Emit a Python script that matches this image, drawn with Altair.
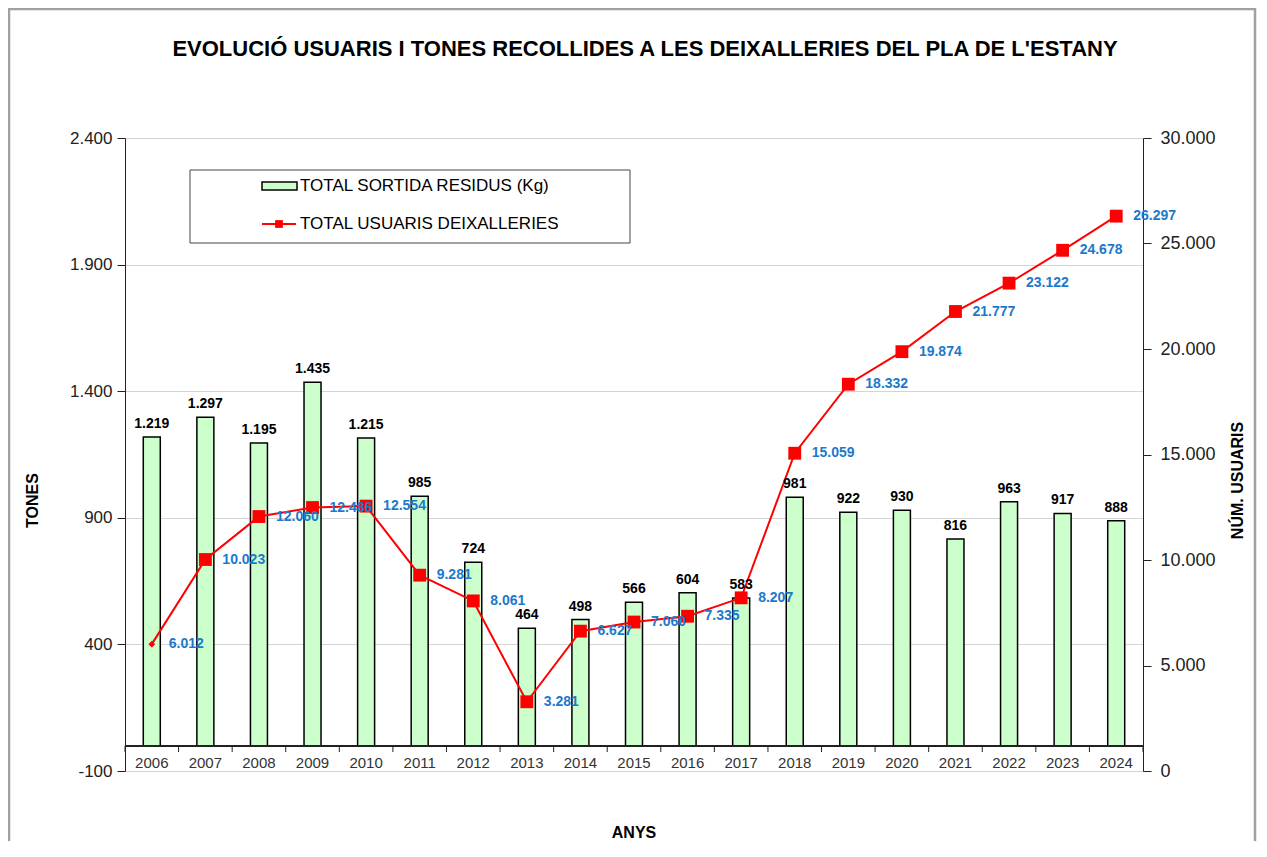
import altair as alt
import pandas as pd

years = [str(y) for y in range(2006, 2025)]
tones = [1219, 1297, 1195, 1435, 1215, 985, 724, 464, 498, 566, 604, 583, 981, 922, 930, 816, 963, 917, 888]
usuaris = [6012, 10023, 12060, 12486, 12554, 9281, 8061, 3281, 6627, 7060, 7335, 8207,
           15059, 18332, 19874, 21777, 23122, 24678, 26297]
left_ticks = [-100, 400, 900, 1400, 1900, 2400]
right_ticks = [0, 5000, 10000, 15000, 20000, 25000, 30000]
legend_labels = ["TOTAL SORTIDA RESIDUS (Kg)", "TOTAL USUARIS DEIXALLERIES"]
title_text = "EVOLUCIÓ USUARIS I TONES RECOLLIDES A LES DEIXALLERIES DEL PLA DE L'ESTANY"
x_title = "ANYS"


def fmt(v):
    return f"{v:,}".replace(",", ".")


df = pd.DataFrame({
    "year": years,
    "tones": tones,
    "usuaris": usuaris,
    "tones_lbl": [fmt(v) for v in tones],
    "usu_lbl": [fmt(v) for v in usuaris],
})

W, H = 1018, 633
FONT = "Liberation Sans"
DOT_EXPR = "replace(replace(datum.label, ',', '.'), '\u2212', '-')"
BLUE = "#1c79cc"
AX = "#222222"

xs = alt.Scale(paddingInner=0, paddingOuter=0)
x_plain = alt.X("year:N", sort=years, axis=None, scale=xs)

yl_scale = alt.Scale(domain=[-100, 2400], nice=False, zero=False)
yr_scale = alt.Scale(domain=[0, 30000], nice=False, zero=False)

bars = alt.Chart(df).mark_bar(size=17, fill="#ccffcc", stroke="black", strokeWidth=1.5).encode(
    x=x_plain,
    y=alt.Y("tones:Q", scale=yl_scale, title="TONES",
            axis=alt.Axis(values=left_ticks, labelExpr=DOT_EXPR, orient="left",
                          grid=True, gridColor="#d4d4d4", gridWidth=1,
                          domainColor=AX, tickColor=AX, tickSize=8,
                          labelFontSize=17, labelColor="#222", labelPadding=5, labelFont=FONT,
                          titleFont=FONT, titleFontSize=16, titleFontWeight="bold",
                          titleColor="black", titleX=-93, titleY=362, titleAngle=270,
                          titleBaseline="middle", titleAlign="center")),
    y2=alt.datum(0),
)
bar_labels = alt.Chart(df).mark_text(baseline="alphabetic", dy=-9, fontSize=14, fontWeight="bold",
                                     font=FONT, color="black").encode(
    x=x_plain,
    y=alt.Y("tones:Q", scale=yl_scale, axis=None),
    text="tones_lbl:N",
)

line = alt.Chart(df).mark_line(color="#ff0000", strokeWidth=2).encode(
    x=x_plain,
    y=alt.Y("usuaris:Q", scale=yr_scale, title="NÚM. USUARIS",
            axis=alt.Axis(values=right_ticks, labelExpr=DOT_EXPR, orient="right", grid=False,
                          domainColor=AX, tickColor=AX, tickSize=8,
                          labelFontSize=18, labelColor="#222", labelPadding=9, labelFont=FONT,
                          titleFont=FONT, titleFontSize=16, titleFontWeight="bold",
                          titleColor="black", titleX=94, titleY=342, titleAngle=270,
                          titleBaseline="middle", titleAlign="center")),
)
points = alt.Chart(df).mark_point(filled=True, color="#ff0000", opacity=1).encode(
    x=x_plain,
    y=alt.Y("usuaris:Q", scale=yr_scale, axis=None),
    shape=alt.condition(alt.datum.year == "2006", alt.value("diamond"), alt.value("square")),
    size=alt.condition(alt.datum.year == "2006", alt.value(45), alt.value(165)),
)
line_labels = alt.Chart(df).mark_text(align="left", baseline="middle", dx=17, fontSize=14,
                                      fontWeight="bold", font=FONT, color=BLUE).encode(
    x=x_plain,
    y=alt.Y("usuaris:Q", scale=yr_scale, axis=None),
    text="usu_lbl:N",
)

# category axis drawn at the zero line of the left scale
x_domain = alt.Chart(df).mark_rule(color=AX, strokeWidth=1.2).encode(
    y=alt.Y(datum=0, scale=yl_scale, axis=None))
x_ticks = alt.Chart(df).mark_rule(color=AX, strokeWidth=1).encode(
    x=alt.X("year:N", sort=years, axis=None, scale=xs, bandPosition=0),
    y=alt.value(608), y2=alt.value(614))
x_ticks_end = alt.Chart(pd.DataFrame({"k": [0]})).mark_rule(color=AX, strokeWidth=1).encode(
    x=alt.value(W), y=alt.value(608), y2=alt.value(614))
x_labels = alt.Chart(df).mark_text(baseline="middle", fontSize=15, font=FONT, color="#333").encode(
    x=x_plain, y=alt.value(625), text="year:N")
x_title_mark = alt.Chart(pd.DataFrame({"t": [x_title]})).mark_text(
    baseline="middle", fontSize=16, fontWeight="bold", font=FONT, color="black").encode(
    x=alt.value(509), y=alt.value(695), text="t:N")

one = pd.DataFrame({"k": [0]})
leg_box = alt.Chart(one).mark_rect(fill="white", stroke="#444", strokeWidth=1).encode(
    x=alt.value(65), x2=alt.value(505), y=alt.value(32), y2=alt.value(105))
leg_bar = alt.Chart(one).mark_rect(fill="#ccffcc", stroke="black", strokeWidth=1.5).encode(
    x=alt.value(137), x2=alt.value(172), y=alt.value(44), y2=alt.value(52))
leg_rule = alt.Chart(one).mark_rule(color="#ff0000", strokeWidth=2).encode(
    x=alt.value(137), x2=alt.value(171), y=alt.value(86))
leg_pt = alt.Chart(one).mark_point(filled=True, shape="square", color="#ff0000", opacity=1, size=60).encode(
    x=alt.value(154), y=alt.value(86))
leg_text1 = alt.Chart(pd.DataFrame({"t": [legend_labels[0]]})).mark_text(
    align="left", baseline="middle", fontSize=17, font=FONT, color="black").encode(
    x=alt.value(175), y=alt.value(48), text="t:N")
leg_text2 = alt.Chart(pd.DataFrame({"t": [legend_labels[1]]})).mark_text(
    align="left", baseline="middle", fontSize=17, font=FONT, color="black").encode(
    x=alt.value(175), y=alt.value(86), text="t:N")
title_mark = alt.Chart(pd.DataFrame({"t": [title_text]})).mark_text(
    align="center", baseline="middle", fontSize=22, fontWeight="bold", font=FONT, color="black").encode(
    x=alt.value(520), y=alt.value(-89), text="t:N")
border = alt.Chart(one).mark_rect(filled=False, stroke="#a0a0a0", strokeWidth=2.5).encode(
    x=alt.value(-116), x2=alt.value(W + 112), y=alt.value(-129), y2=alt.value(H + 100))

chart = alt.layer(bars, line, x_domain, x_ticks, x_ticks_end, x_labels, x_title_mark,
                  bar_labels, points, line_labels,
                  leg_box, leg_bar, leg_rule, leg_pt, leg_text1, leg_text2, title_mark, border).resolve_scale(
    y="independent"
).properties(
    width=W, height=H,
    autosize=alt.AutoSizeParams(type="none"),
    padding={"left": 117, "top": 130, "right": 114, "bottom": 70},
).configure_view(stroke=None)

chart.save("out.html", embed_options={"renderer": "svg", "actions": False})
